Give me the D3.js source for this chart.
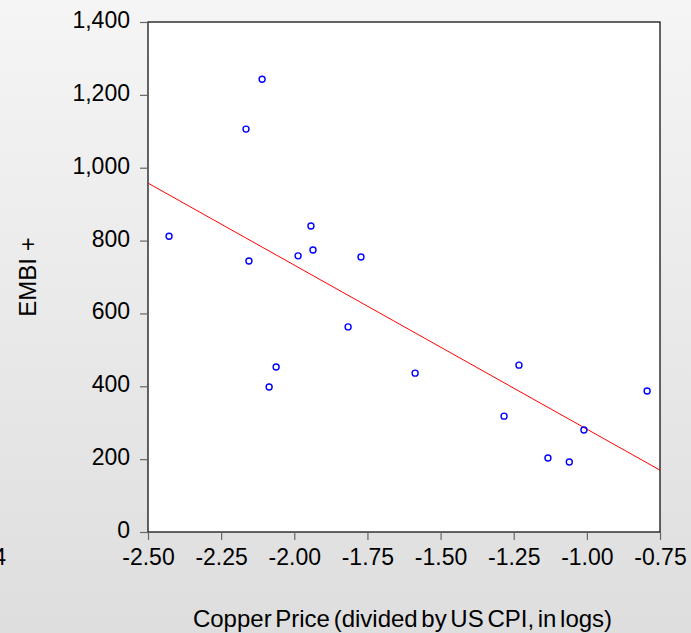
<!DOCTYPE html>
<html><head><meta charset="utf-8">
<script src="https://cdn.jsdelivr.net/npm/d3@7"></script>
<style>body{margin:0;padding:0;overflow:hidden;} svg{display:block;}</style>
</head><body>
<script>
// Data
const copperPrice = [-2.428,-2.165,-2.110,-2.155,-2.062,-2.086,-1.987,-1.943,-1.936,-1.772,-1.816,-1.587,-1.283,-1.232,-1.133,-1.060,-1.010,-0.794];
const embi =        [812,1106,1243,744,453,398,758,840,774,755,563,436,318,458,203,192,280,387];
const fitIntercept = -168;   // fitted line: EMBI = a + b * copper
const fitSlope = -450.3;
const xTicks = [-2.50,-2.25,-2.00,-1.75,-1.50,-1.25,-1.00,-0.75];
const yTicks = [0,200,400,600,800,1000,1200,1400];
const xTitle = "Copper Price (divided by US CPI, in logs)";
const yTitle = "EMBI +";

const W = 691, H = 633;
const m = {left:148, right:691-660, top:22, bottom:633-532};
const svg = d3.select("body").append("svg").attr("width",W).attr("height",H);
const defs = svg.append("defs");
const g = defs.append("linearGradient").attr("id","bg").attr("x1",0).attr("y1",0).attr("x2",0).attr("y2",1);
g.append("stop").attr("offset","0%").attr("stop-color","#f5f5f5");
g.append("stop").attr("offset","100%").attr("stop-color","#dedede");
svg.append("rect").attr("width",W).attr("height",H).attr("fill","url(#bg)");

const x = d3.scaleLinear().domain([-2.5,-0.75]).range([m.left, W-m.right]);
const y = d3.scaleLinear().domain([0,1400]).range([H-m.bottom, m.top]);

svg.append("rect").attr("x",x(-2.5)).attr("y",y(1400))
  .attr("width",x(-0.75)-x(-2.5)).attr("height",y(0)-y(1400))
  .attr("fill","#fff").attr("stroke","#000").attr("stroke-width",1.2);

const font = "'Liberation Sans', Arial, sans-serif";
const xAxis = svg.append("g").attr("transform",`translate(0,${y(0)})`)
  .call(d3.axisBottom(x).tickValues(xTicks).tickFormat(d3.format(".2f")).tickSize(8).tickPadding(9));
const yAxis = svg.append("g").attr("transform",`translate(${x(-2.5)},0)`)
  .call(d3.axisLeft(y).tickValues(yTicks).tickFormat(d3.format(",")).tickSize(8).tickPadding(10));
[xAxis,yAxis].forEach(a=>{
  a.select(".domain").remove();
  a.selectAll(".tick line").attr("stroke","#666").attr("stroke-width",1.2);
  a.selectAll(".tick text").attr("font-family",font).attr("font-size",23).attr("fill","#000");
});
xAxis.selectAll(".tick text").text(d=>d3.format(".2f")(d).replace("−","-"));
yAxis.selectAll(".tick text").attr("dy","0.24em");

// fitted line
const clipId = "clip";
defs.append("clipPath").attr("id",clipId).append("rect").attr("x",x(-2.5)).attr("y",y(1400))
  .attr("width",x(-0.75)-x(-2.5)).attr("height",y(0)-y(1400));
svg.append("line").attr("clip-path",`url(#${clipId})`)
  .attr("x1",x(-2.5)).attr("y1",y(fitIntercept+fitSlope*-2.5))
  .attr("x2",x(-0.75)).attr("y2",y(fitIntercept+fitSlope*-0.75))
  .attr("stroke","#ff0000").attr("stroke-width",1);

svg.append("g").selectAll("circle").data(copperPrice.map((c,i)=>[c,embi[i]])).join("circle")
  .attr("cx",d=>x(d[0])).attr("cy",d=>y(d[1])).attr("r",3)
  .attr("fill","none").attr("stroke","#0000ff").attr("stroke-width",1.4);

svg.append("text").attr("x",402.5).attr("y",627)
  .attr("text-anchor","middle").attr("font-family",font).attr("font-size",24)
  .attr("word-spacing","-3px").text(xTitle);
svg.append("text").attr("transform",`translate(36,${(y(0)+y(1400))/2}) rotate(-90)`)
  .attr("text-anchor","middle").attr("font-family",font).attr("font-size",24).text(yTitle);
// cropped label of neighbouring chart at left edge
svg.append("text").attr("x",6).attr("y",565).attr("text-anchor","end")
  .attr("font-family",font).attr("font-size",23).text("4");
</script>
</body></html>
